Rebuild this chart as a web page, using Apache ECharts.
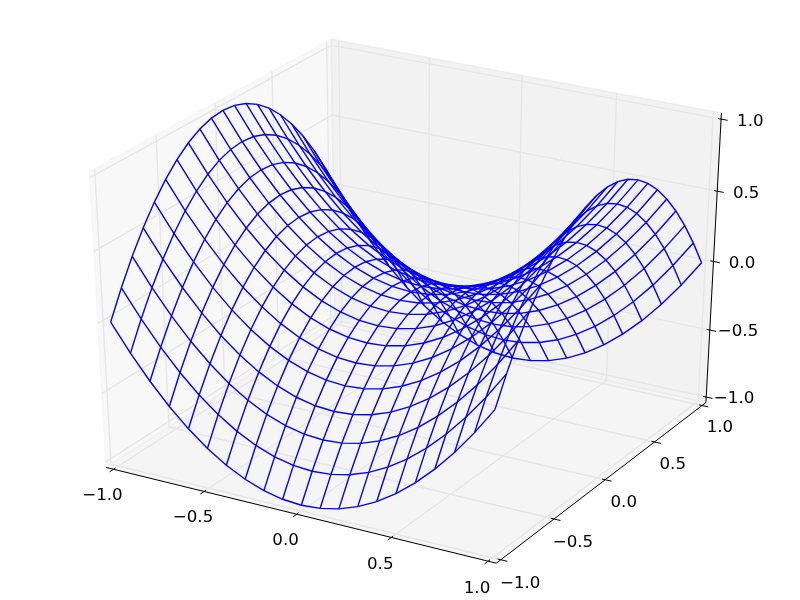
<!DOCTYPE html>
<html>
<head>
<meta charset="utf-8">
<script src="https://cdn.jsdelivr.net/npm/echarts@6/dist/echarts.min.js"></script>
<style>
    html, body { margin: 0; padding: 0; background: #fff; }
    #chart { width: 800px; height: 600px; }
</style>
</head>
<body>
<div id="chart"></div>
<script>
// surface samples: zRows[j][i] is the height at (xVals[i], yVals[j])
var xVals = [-1.0, -0.9, -0.8, -0.7, -0.6, -0.5, -0.4, -0.3, -0.2, -0.1, 0.0, 0.1, 0.2, 0.3, 0.4, 0.5, 0.6, 0.7, 0.8, 0.9, 1.0];
var yVals = [-1.0, -0.9, -0.8, -0.7, -0.6, -0.5, -0.4, -0.3, -0.2, -0.1, 0.0, 0.1, 0.2, 0.3, 0.4, 0.5, 0.6, 0.7, 0.8, 0.9, 1.0];
var zRows = [
    [0, -0.19, -0.36, -0.51, -0.64, -0.75, -0.84, -0.91, -0.96, -0.99, -1, -0.99, -0.96, -0.91, -0.84, -0.75, -0.64, -0.51, -0.36, -0.19, 0],
    [0.19, 0, -0.17, -0.32, -0.45, -0.56, -0.65, -0.72, -0.77, -0.8, -0.81, -0.8, -0.77, -0.72, -0.65, -0.56, -0.45, -0.32, -0.17, 0, 0.19],
    [0.36, 0.17, 0, -0.15, -0.28, -0.39, -0.48, -0.55, -0.6, -0.63, -0.64, -0.63, -0.6, -0.55, -0.48, -0.39, -0.28, -0.15, 0, 0.17, 0.36],
    [0.51, 0.32, 0.15, 0, -0.13, -0.24, -0.33, -0.4, -0.45, -0.48, -0.49, -0.48, -0.45, -0.4, -0.33, -0.24, -0.13, 0, 0.15, 0.32, 0.51],
    [0.64, 0.45, 0.28, 0.13, 0, -0.11, -0.2, -0.27, -0.32, -0.35, -0.36, -0.35, -0.32, -0.27, -0.2, -0.11, 0, 0.13, 0.28, 0.45, 0.64],
    [0.75, 0.56, 0.39, 0.24, 0.11, 0, -0.09, -0.16, -0.21, -0.24, -0.25, -0.24, -0.21, -0.16, -0.09, 0, 0.11, 0.24, 0.39, 0.56, 0.75],
    [0.84, 0.65, 0.48, 0.33, 0.2, 0.09, 0, -0.07, -0.12, -0.15, -0.16, -0.15, -0.12, -0.07, 0, 0.09, 0.2, 0.33, 0.48, 0.65, 0.84],
    [0.91, 0.72, 0.55, 0.4, 0.27, 0.16, 0.07, 0, -0.05, -0.08, -0.09, -0.08, -0.05, 0, 0.07, 0.16, 0.27, 0.4, 0.55, 0.72, 0.91],
    [0.96, 0.77, 0.6, 0.45, 0.32, 0.21, 0.12, 0.05, 0, -0.03, -0.04, -0.03, 0, 0.05, 0.12, 0.21, 0.32, 0.45, 0.6, 0.77, 0.96],
    [0.99, 0.8, 0.63, 0.48, 0.35, 0.24, 0.15, 0.08, 0.03, 0, -0.01, 0, 0.03, 0.08, 0.15, 0.24, 0.35, 0.48, 0.63, 0.8, 0.99],
    [1, 0.81, 0.64, 0.49, 0.36, 0.25, 0.16, 0.09, 0.04, 0.01, 0, 0.01, 0.04, 0.09, 0.16, 0.25, 0.36, 0.49, 0.64, 0.81, 1],
    [0.99, 0.8, 0.63, 0.48, 0.35, 0.24, 0.15, 0.08, 0.03, 0, -0.01, 0, 0.03, 0.08, 0.15, 0.24, 0.35, 0.48, 0.63, 0.8, 0.99],
    [0.96, 0.77, 0.6, 0.45, 0.32, 0.21, 0.12, 0.05, 0, -0.03, -0.04, -0.03, 0, 0.05, 0.12, 0.21, 0.32, 0.45, 0.6, 0.77, 0.96],
    [0.91, 0.72, 0.55, 0.4, 0.27, 0.16, 0.07, 0, -0.05, -0.08, -0.09, -0.08, -0.05, 0, 0.07, 0.16, 0.27, 0.4, 0.55, 0.72, 0.91],
    [0.84, 0.65, 0.48, 0.33, 0.2, 0.09, 0, -0.07, -0.12, -0.15, -0.16, -0.15, -0.12, -0.07, 0, 0.09, 0.2, 0.33, 0.48, 0.65, 0.84],
    [0.75, 0.56, 0.39, 0.24, 0.11, 0, -0.09, -0.16, -0.21, -0.24, -0.25, -0.24, -0.21, -0.16, -0.09, 0, 0.11, 0.24, 0.39, 0.56, 0.75],
    [0.64, 0.45, 0.28, 0.13, 0, -0.11, -0.2, -0.27, -0.32, -0.35, -0.36, -0.35, -0.32, -0.27, -0.2, -0.11, 0, 0.13, 0.28, 0.45, 0.64],
    [0.51, 0.32, 0.15, 0, -0.13, -0.24, -0.33, -0.4, -0.45, -0.48, -0.49, -0.48, -0.45, -0.4, -0.33, -0.24, -0.13, 0, 0.15, 0.32, 0.51],
    [0.36, 0.17, 0, -0.15, -0.28, -0.39, -0.48, -0.55, -0.6, -0.63, -0.64, -0.63, -0.6, -0.55, -0.48, -0.39, -0.28, -0.15, 0, 0.17, 0.36],
    [0.19, 0, -0.17, -0.32, -0.45, -0.56, -0.65, -0.72, -0.77, -0.8, -0.81, -0.8, -0.77, -0.72, -0.65, -0.56, -0.45, -0.32, -0.17, 0, 0.19],
    [0, -0.19, -0.36, -0.51, -0.64, -0.75, -0.84, -0.91, -0.96, -0.99, -1, -0.99, -0.96, -0.91, -0.84, -0.75, -0.64, -0.51, -0.36, -0.19, 0]
];

// ticks and their labels, same for the three axes
var tickVals = [-1.0, -0.5, 0.0, 0.5, 1.0];
var tickLabels = ['\u22121.0', '\u22120.5', '0.0', '0.5', '1.0'];

(function(){
    let myChart = echarts.init(document.getElementById('chart'));

    // view like a matplotlib 3d axes: elev 30, azim -60, dist 10
    let elev = 30 * Math.PI / 180, azim = -60 * Math.PI / 180, dist = 10;
    let lims = [[-1, 1], [-1, 1], [-1, 1]];
    let nvec = [Math.cos(azim) * Math.cos(elev), Math.sin(azim) * Math.cos(elev), Math.sin(elev)];
    let uvec = [-nvec[1], nvec[0], 0];
    let ul = Math.sqrt(uvec[0] * uvec[0] + uvec[1] * uvec[1]);
    uvec = [uvec[0] / ul, uvec[1] / ul, 0];
    let vvec = [
        nvec[1] * uvec[2] - nvec[2] * uvec[1],
        nvec[2] * uvec[0] - nvec[0] * uvec[2],
        nvec[0] * uvec[1] - nvec[1] * uvec[0]
    ];
    function dot(a, b) { return a[0] * b[0] + a[1] * b[1] + a[2] * b[2]; }
    function viewOf(p) {
        let d = [0, 1, 2].map(function(i){ return (p[i] - lims[i][0]) / (lims[i][1] - lims[i][0]) - 0.5; });
        return [dot(uvec, d), dot(vvec, d), dot(nvec, d) - dist];
    }
    function proj(p) {
        let v = viewOf(p);
        return [v[0] / -v[2], v[1] / -v[2]];
    }

    // padded box like mpl axis3d
    let deltas = lims.map(function(l){ return (l[1] - l[0]) / 12; });
    let mins = lims.map(function(l, i){ return l[0] - deltas[i] / 4; });
    let maxs = lims.map(function(l, i){ return l[1] + deltas[i] / 4; });
    let centers = lims.map(function(l){ return (l[0] + l[1]) / 2; });

    // highs[i] true -> the max side of that axis is the far one
    let highs = [0, 1, 2].map(function(i){
        let a = centers.slice(), b = centers.slice();
        a[i] = mins[i]; b[i] = maxs[i];
        return viewOf(a)[2] > viewOf(b)[2];
    });
    let minmax = [0, 1, 2].map(function(i){ return highs[i] ? maxs[i] : mins[i]; });
    function flip(c, i) { return c[i] === mins[i] ? maxs[i] : mins[i]; }

    // panes
    let paneColors = ['rgba(242,242,242,0.5)', 'rgba(230,230,230,0.5)', 'rgba(236,236,236,0.5)'];
    let panes = [];
    for (let i = 0; i < 3; i++) {
        let j = (i + 1) % 3, k = (i + 2) % 3;
        let corners = [[mins[j], mins[k]], [maxs[j], mins[k]], [maxs[j], maxs[k]], [mins[j], maxs[k]]];
        let poly = corners.map(function(c){
            let p = [0, 0, 0];
            p[i] = minmax[i]; p[j] = c[0]; p[k] = c[1];
            return proj(p);
        });
        panes.push(poly);
    }

    // axis lines, grid lines, ticks, tick labels
    let juggledList = [[1, 0, 2], [0, 1, 2], [0, 2, 1]];
    let tickdirs = [1, 0, 0];
    let labelSpace = 0.6;
    let axisLines = [], gridLines = [], tickLines = [], labelPts = [];
    for (let index = 0; index < 3; index++) {
        let jug = juggledList[index];
        let e1 = minmax.slice();
        e1[jug[0]] = flip(e1, jug[0]);
        let e2 = e1.slice();
        e2[jug[1]] = flip(e2, jug[1]);
        axisLines.push({coords: [proj(e1), proj(e2)]});

        tickVals.forEach(function(val, t){
            let p0 = minmax.slice(); p0[index] = val;
            let p1 = p0.slice(); let n1 = (index + 1) % 3; p1[n1] = flip(p0, n1);
            let p2 = p0.slice(); let n2 = (index + 2) % 3; p2[n2] = flip(p0, n2);
            gridLines.push({coords: [proj(p1), proj(p0), proj(p2)]});

            let td = tickdirs[index];
            let sign = highs[td] ? 1 : -1;
            let pos = e1.slice(); pos[index] = val;
            let a = pos.slice(); a[td] = e1[td] + 0.1 * sign * deltas[td];
            let b = pos.slice(); b[td] = e1[td] - 0.2 * sign * deltas[td];
            tickLines.push({coords: [proj(a), proj(b)]});

            let lp = pos.slice(); lp[td] = e1[td];
            for (let m = 0; m < 3; m++) {
                if (m === index) continue;
                lp[m] += (lp[m] < centers[m] ? -1 : 1) * labelSpace * deltas[m];
            }
            let q = proj(lp);
            labelPts.push([q[0], q[1], t]);
        });
    }

    // wireframe: rows along x and columns along y
    let wire = [];
    yVals.forEach(function(y, j){
        wire.push({coords: xVals.map(function(x, i){ return proj([x, y, zRows[j][i]]); })});
    });
    xVals.forEach(function(x, i){
        wire.push({coords: yVals.map(function(y, j){ return proj([x, y, zRows[j][i]]); })});
    });

    let option = {
        animation: false,
        backgroundColor: '#ffffff',
        grid: {left: 0, right: 0, top: 0, bottom: 0, containLabel: false},
        xAxis: {type: 'value', min: -0.095, max: 0.09, show: false},
        yAxis: {type: 'value', min: -0.095, max: 0.09, show: false},
        series: [
            {
                type: 'custom',
                z: 1,
                silent: true,
                data: panes.map(function(p, k){ return [0, 0, k]; }),
                renderItem: function(params, api){
                    let k = params.dataIndex;
                    let pts = panes[k].map(function(p){ return api.coord(p); });
                    return {
                        type: 'polygon',
                        shape: {points: pts},
                        style: {fill: paneColors[k], stroke: paneColors[k], lineWidth: 1.4}
                    };
                }
            },
            {
                type: 'lines', coordinateSystem: 'cartesian2d', polyline: true, z: 2, silent: true,
                lineStyle: {color: '#e6e6e6', width: 1.4, opacity: 1},
                data: gridLines
            },
            {
                type: 'lines', coordinateSystem: 'cartesian2d', polyline: false, z: 3, silent: true,
                lineStyle: {color: '#000000', width: 1, opacity: 1},
                data: axisLines
            },
            {
                type: 'lines', coordinateSystem: 'cartesian2d', polyline: false, z: 3, silent: true,
                lineStyle: {color: '#000000', width: 1, opacity: 1},
                data: tickLines
            },
            {
                type: 'custom',
                z: 4,
                silent: true,
                data: labelPts,
                renderItem: function(params, api){
                    let pt = api.coord([api.value(0), api.value(1)]);
                    return {
                        type: 'text',
                        x: pt[0], y: pt[1] + 5,
                        style: {
                            text: tickLabels[api.value(2)],
                            fill: '#000000',
                            font: '16.67px "DejaVu Sans"',
                            align: 'center',
                            verticalAlign: 'middle'
                        }
                    };
                }
            },
            {
                type: 'lines', coordinateSystem: 'cartesian2d', polyline: true, z: 5, silent: true,
                lineStyle: {color: '#0000ff', width: 1.4, opacity: 1},
                data: wire
            }
        ]
    };

    myChart.setOption(option);
})();
</script>
</body>
</html>
